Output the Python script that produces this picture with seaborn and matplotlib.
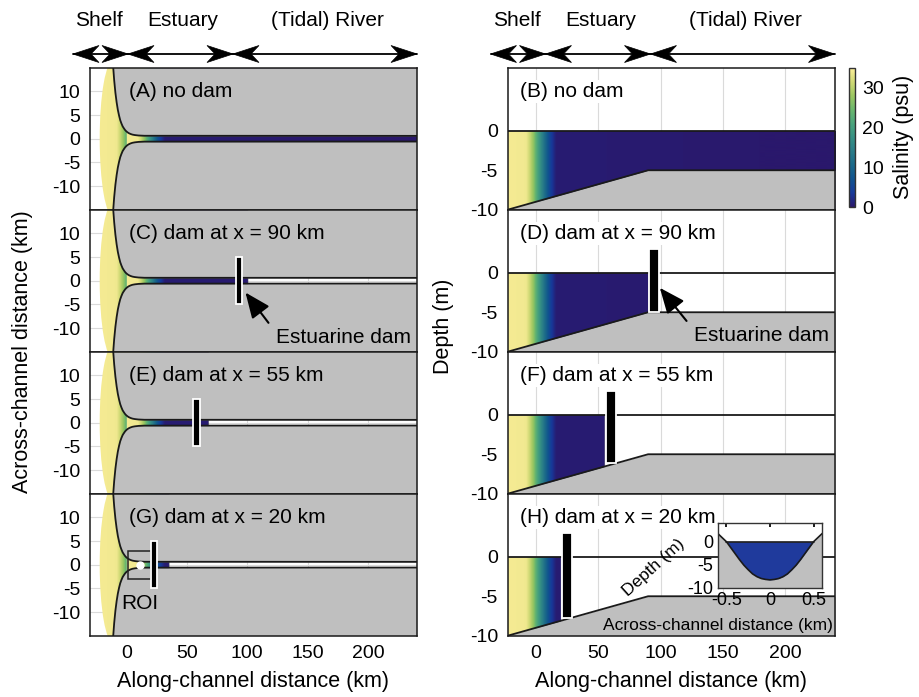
import numpy as np
import matplotlib
matplotlib.use("Agg")
import matplotlib.pyplot as plt
import seaborn as sns
from matplotlib.colors import LinearSegmentedColormap
from matplotlib.patches import Rectangle, Ellipse, Polygon
from matplotlib.cm import ScalarMappable
from matplotlib.colors import Normalize

sns.set_theme(style="white")
plt.rcParams['font.family'] = ['Liberation Sans', 'DejaVu Sans']
plt.rcParams['axes.unicode_minus'] = False
for key in ('text.color', 'axes.labelcolor', 'xtick.color', 'ytick.color'):
    plt.rcParams[key] = 'black'

# ---------------- data ----------------
LEFT_TITLES = ["(A) no dam", "(C) dam at x = 90 km", "(E) dam at x = 55 km", "(G) dam at x = 20 km"]
RIGHT_TITLES = ["(B) no dam", "(D) dam at x = 90 km", "(F) dam at x = 55 km", "(H) dam at x = 20 km"]
DAM_X = [None, 90, 55, 20]
REGION_NAMES = ["Shelf", "Estuary", "(Tidal) River"]

# along-channel salinity (psu) control points
SAL_X = [-30, -8, -5, -2, 0, 3, 6, 9, 12, 16, 240]
SAL_PSU = [34.5, 34, 31, 27, 23, 18, 13, 8, 4, 0.5, 0]

# plan view: channel half-width (km) along the channel
COAST_X = [-10.8, -10, -9, -8, -7, -6, -5, -4, -3, -2, -1, 0, 1, 2, 3.5, 5, 7, 10, 15, 240]
COAST_HW = [15.0, 12.3, 9.7, 7.7, 6.1, 4.9, 3.9, 3.2, 2.6, 2.2, 1.83, 1.56, 1.35, 1.18, 1.0, 0.87, 0.77, 0.68, 0.62, 0.6]

# shelf plume (ellipse) centre and semi-axes (km)
SHELF_CENTER = (-10.8, 0.0)
SHELF_SEMI = (11.2, 16.5)

# side view: bed elevation (m)
BED_X = [-22.5, 90, 240]
BED_Z = [-10, -5, -5]

# channel cross-section (inset)
XS_X = [-0.6, -0.55, -0.5, -0.45, -0.4, -0.35, -0.3, -0.25, -0.2, -0.15, -0.1, -0.05, 0,
        0.05, 0.1, 0.15, 0.2, 0.25, 0.3, 0.35, 0.4, 0.45, 0.5, 0.55, 0.6]
XS_Z = [1.8, 0.9, 0.0, -1.3, -2.6, -3.9, -5.1, -6.1, -7.0, -7.6, -8.0, -8.2, -8.3,
        -8.2, -8.0, -7.6, -7.0, -6.1, -5.1, -3.9, -2.6, -1.3, 0.0, 0.9, 1.8]

X_TICKS = [0, 50, 100, 150, 200]

# ---------------- style ----------------
HALINE = ['#2a186c', '#17399a', '#10538f', '#1a6889', '#297c88', '#369084',
          '#4aa47c', '#6ab76d', '#9cc761', '#d0d975', '#fdef9a']
cmap = LinearSegmentedColormap.from_list("haline_like", HALINE)
VMIN, VMAX = 0, 35
LAND = '#bfbfbf'
GRID = '#dadada'
FS_LAB = 15.5
FS_TXT = 15
FS_TICK = 14

W, H = 919, 697
fig = plt.figure(figsize=(W / 100, H / 100), dpi=100)


def fbox(x0, y0, x1, y1):
    """pixel box (top-left origin) -> figure fraction rect"""
    return [x0 / W, 1 - y1 / H, (x1 - x0) / W, (y1 - y0) / H]


PANEL_TOP, PANEL_H = 67.7, 142.0
LX0, LX1 = 90.0, 416.7
RX0, RX1 = 507.7, 835.3

xs_l = np.linspace(-30, 240, 2700)
xs_r = np.linspace(-22.5, 240, 2625)

left_axes, right_axes = [], []
for i in range(4):
    y0 = PANEL_TOP + i * PANEL_H
    # ---------- plan view ----------
    ax = fig.add_axes(fbox(LX0, y0, LX1, y0 + PANEL_H))
    left_axes.append(ax)
    ax.set_xlim(-30, 240)
    ax.set_ylim(-15, 15)
    ax.grid(True, color=GRID, lw=0.8, zorder=0.5)
    ax.set_axisbelow(True)

    sal = np.interp(xs_l, SAL_X, SAL_PSU)
    if DAM_X[i] is not None:
        sal = np.where(xs_l > DAM_X[i], np.nan, sal)
    img = np.ma.masked_invalid(sal[None, :])
    # channel / estuary salinity
    ax.imshow(img, extent=[COAST_X[0], 240, -15, 15], aspect='auto', cmap=cmap,
              vmin=VMIN, vmax=VMAX, zorder=1, origin='lower',
              interpolation='bilinear')
    # shelf plume
    ell = Ellipse(SHELF_CENTER, 2 * SHELF_SEMI[0], 2 * SHELF_SEMI[1],
                  facecolor='none', edgecolor='none')
    ax.add_patch(ell)
    im2 = ax.imshow(np.interp(xs_l, SAL_X, SAL_PSU)[None, :], extent=[-30, 240, -15, 15],
                    aspect='auto', cmap=cmap, vmin=VMIN, vmax=VMAX, zorder=1,
                    origin='lower', interpolation='bilinear')
    im2.set_clip_path(ell)
    # land
    ax.fill_between(COAST_X, COAST_HW, 15, color=LAND, lw=0, zorder=2)
    ax.fill_between(COAST_X, -15, -np.array(COAST_HW), color=LAND, lw=0, zorder=2)
    sns.lineplot(x=COAST_X, y=COAST_HW, ax=ax, color='k', lw=1.3, zorder=3)
    sns.lineplot(x=COAST_X, y=-np.array(COAST_HW), ax=ax, color='k', lw=1.3, zorder=3)

    if DAM_X[i] is not None:
        ax.add_patch(Rectangle((DAM_X[i] + 0.5, -5), 5, 10, facecolor='black',
                               edgecolor='white', lw=1.3, zorder=5))
    ax.text(2, 10, LEFT_TITLES[i], fontsize=FS_TXT, ha='left', va='center', zorder=6)

    ax.set_xticks(X_TICKS)
    ax.set_yticks([-10, -5, 0, 5, 10])
    ax.tick_params(axis='both', length=0, labelsize=FS_TICK, pad=7)
    if i < 3:
        ax.set_xticklabels([])
    for s in ax.spines.values():
        s.set_color('k')
        s.set_linewidth(1.1)
        s.set_zorder(7)

    # ---------- side view ----------
    axr = fig.add_axes(fbox(RX0, y0, RX1, y0 + PANEL_H))
    right_axes.append(axr)
    axr.set_xlim(-22.5, 240)
    axr.set_ylim(-10, 8)
    axr.grid(True, axis='x', color=GRID, lw=0.8, zorder=0.5)
    axr.grid(False, axis='y')
    axr.set_axisbelow(True)

    salr = np.interp(xs_r, SAL_X, SAL_PSU)
    if DAM_X[i] is not None:
        salr = np.where(xs_r > DAM_X[i], np.nan, salr)
    axr.imshow(np.ma.masked_invalid(salr[None, :]), extent=[-22.5, 240, -10, 0],
               aspect='auto', cmap=cmap, vmin=VMIN, vmax=VMAX, zorder=1,
               origin='lower', interpolation='bilinear')
    axr.fill_between(BED_X, -10, BED_Z, color=LAND, lw=0, zorder=2)
    sns.lineplot(x=BED_X, y=BED_Z, ax=axr, color='k', lw=1.3, zorder=3)
    axr.axhline(0, color='k', lw=1.3, zorder=3)

    if DAM_X[i] is not None:
        xr = DAM_X[i] + 9
        zb = np.interp(xr, BED_X, BED_Z)
        axr.add_patch(Rectangle((DAM_X[i] + 1, zb), 8, 3 - zb, facecolor='black',
                                edgecolor='white', lw=1.3, zorder=5))
    axr.text(-12.5, 5, RIGHT_TITLES[i], fontsize=FS_TXT, ha='left', va='center', zorder=6,
             bbox=dict(facecolor='white', edgecolor='none', pad=1.5))

    axr.set_xticks(X_TICKS)
    axr.set_yticks([-10, -5, 0])
    axr.tick_params(axis='both', length=0, labelsize=FS_TICK, pad=7)
    if i < 3:
        axr.set_xticklabels([])
    for s in axr.spines.values():
        s.set_color('k')
        s.set_linewidth(1.1)
        s.set_zorder(7)

# ---------- dam callouts ----------
arrow_kw = dict(arrowstyle='-|>,head_length=1.3,head_width=0.55', color='black', lw=1.5,
                mutation_scale=12, shrinkA=0, shrinkB=0)
axc = left_axes[1]
axc.annotate("", xy=(98.5, -2.5), xytext=(117.5, -8.9), arrowprops=arrow_kw, zorder=6)
axc.text(235, -12.1, "Estuarine dam", fontsize=FS_TXT, ha='right', va='center', zorder=6)
axd = right_axes[1]
axd.annotate("", xy=(99.4, -1.9), xytext=(120.8, -6.1), arrowprops=arrow_kw, zorder=6)
axd.text(235, -8.0, "Estuarine dam", fontsize=FS_TXT, ha='right', va='center', zorder=6)

# ---------- region of interest (panel G) ----------
axg = left_axes[3]
axg.add_patch(Rectangle((1, -3), 19, 6, fill=False, edgecolor='#222222', lw=1.1, zorder=4))
axg.plot([11], [0], 'o', color='white', ms=5, zorder=5)
axg.text(-4, -8.3, "ROI", fontsize=FS_TXT, ha='left', va='center', zorder=6)

# ---------- cross-section inset (panel H) ----------
ax_in = fig.add_axes(fbox(717.7, 523.3, 822.3, 587.7))
ax_in.set_zorder(10)
ax_in.set_xlim(-0.6, 0.6)
ax_in.set_ylim(-10, 4)
xz = np.array(XS_Z)
ax_in.fill_between(XS_X, -10, XS_Z, color=LAND, lw=0)
ax_in.fill_between(XS_X, XS_Z, 0, where=xz <= 0, interpolate=True, color='#1f3a9c', lw=0)
ax_in.plot(XS_X, XS_Z, color='k', lw=1.2)
ax_in.plot([-0.5, 0.5], [0, 0], color='k', lw=1.2)
ax_in.set_xticks([-0.5, 0, 0.5])
ax_in.set_xticklabels(["-0.5", "0", "0.5"])
ax_in.set_yticks([-10, -5, 0])
ax_in.tick_params(axis='both', direction='in', length=3, labelsize=13, pad=3,
                  top=True, right=True)
for s in ax_in.spines.values():
    s.set_color('#333333')
    s.set_linewidth(1.0)
ax_in.text(0.0, -0.58, "Across-channel distance (km)", transform=ax_in.transAxes,
           fontsize=12.5, ha='center', va='center')
ax_in.text(-0.61, 0.32, "Depth (m)", transform=ax_in.transAxes, fontsize=12.5,
           rotation=42, ha='center', va='center')

# ---------- colorbar ----------
cax = fig.add_axes(fbox(849, 67.7, 855.5, 207))
sm = ScalarMappable(norm=Normalize(VMIN, VMAX), cmap=cmap)
cb = fig.colorbar(sm, cax=cax, ticks=[0, 10, 20, 30])
cb.outline.set_linewidth(1.0)
cb.outline.set_edgecolor('#333333')
cax.tick_params(direction='in', length=3, labelsize=FS_TICK, pad=5, color='#222222')
cb.set_label("Salinity (psu)", fontsize=FS_LAB, labelpad=6)

# ---------- axis labels ----------
fig.text(23 / W, 1 - 351.7 / H, "Across-channel distance (km)", rotation=90,
         fontsize=FS_LAB, ha='center', va='center')
fig.text(444 / W, 1 - 326 / H, "Depth (m)", rotation=90,
         fontsize=FS_LAB, ha='center', va='center')
fig.text(253.3 / W, 1 - 682 / H, "Along-channel distance (km)",
         fontsize=FS_LAB, ha='center', va='center')
fig.text(671 / W, 1 - 682 / H, "Along-channel distance (km)",
         fontsize=FS_LAB, ha='center', va='center')


# ---------- region arrows above the panels ----------
def head(xt, y, direction, L=26, hw=8.5, notch=8):
    pts = [(xt, y), (xt - direction * L, y + hw), (xt - direction * (L - notch), y),
           (xt - direction * L, y - hw)]
    fig.patches.append(Polygon([(px / W, 1 - py / H) for px, py in pts], closed=True,
                               transform=fig.transFigure, facecolor='black',
                               edgecolor='black', lw=0.5))


def region_arrow(x0, x1, y=54):
    fig.add_artist(plt.Line2D([x0 / W, x1 / W], [1 - y / H, 1 - y / H], color='black',
                              lw=1.3, transform=fig.transFigure))
    head(x0, y, -1)
    head(x1, y, 1)


for off in (0.0, 417.5):
    bounds = [73 + off, 128 + off, 233 + off, 417 + off]
    for k in range(3):
        region_arrow(bounds[k], bounds[k + 1])
    centers = [99 + off, 183 + off, 327.5 + off]
    for name, cx in zip(REGION_NAMES, centers):
        fig.text(cx / W, 1 - 21 / H, name, fontsize=FS_TXT, ha='center', va='center')

fig.savefig("out.png", dpi=100, facecolor='white')
